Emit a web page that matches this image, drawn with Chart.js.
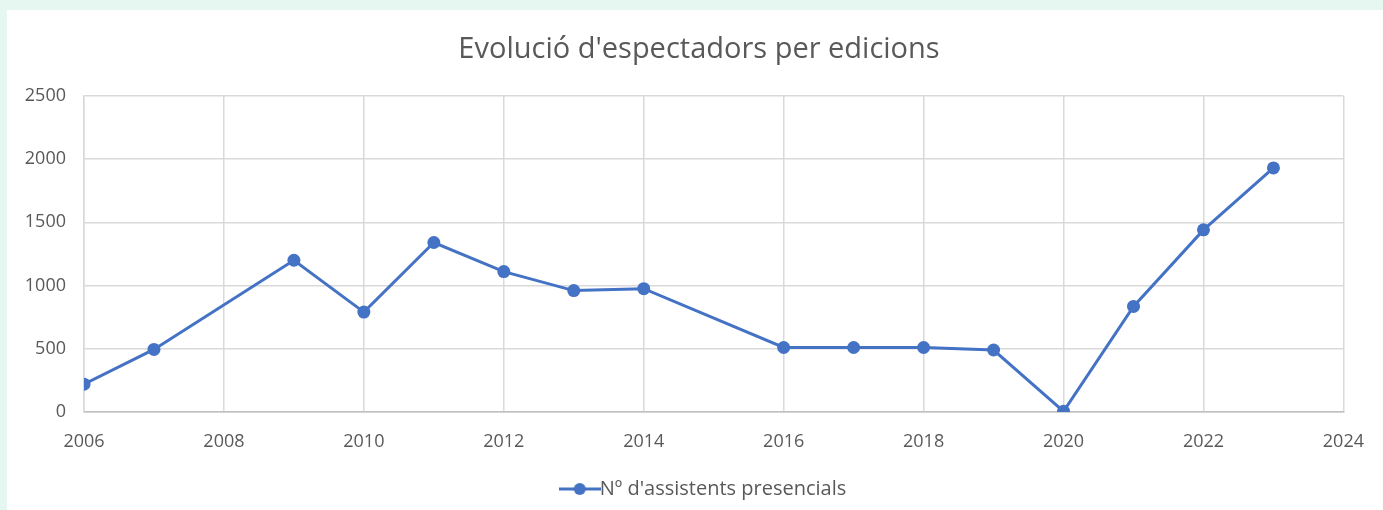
<!DOCTYPE html>
<html>
<head>
<meta charset="utf-8">
<script src="https://cdn.jsdelivr.net/npm/chart.js@4/dist/chart.umd.min.js"></script>
<style>
  html, body { margin: 0; padding: 0; }
  body { width: 1383px; height: 510px; background: #e6f7f2; overflow: hidden; position: relative; }
  #panel { position: absolute; left: 7px; top: 10px; width: 1376px; height: 500px; background: #fff; }
</style>
</head>
<body>
<div id="panel"><canvas id="myChart" width="1376" height="500"></canvas></div>
<script>
const years = [2006, 2007, 2009, 2010, 2011, 2012, 2013, 2014, 2016, 2017, 2018, 2019, 2020, 2021, 2022, 2023];
const attendees = [220, 495, 1200, 790, 1340, 1110, 960, 975, 510, 510, 510, 490, 5, 835, 1440, 1930];
const series_label = "Nº d'assistents presencials";
const chart_title = "Evolució d'espectadors per edicions";

const blue = '#4472c4';
const text_color = '#595959';
const font_name = "'Open Sans', 'Noto Sans', sans-serif";

// legend marker: short line with a dot on it
const marker = document.createElement('canvas');
marker.width = 42;
marker.height = 14;
const mctx = marker.getContext('2d');
mctx.strokeStyle = blue;
mctx.lineWidth = 3;
mctx.beginPath();
mctx.moveTo(0, 7);
mctx.lineTo(42, 7);
mctx.stroke();
mctx.fillStyle = blue;
mctx.beginPath();
mctx.arc(21, 7, 6, 0, Math.PI * 2);
mctx.fill();

// title and legend are centred a bit right of the canvas middle in the original
const shiftBoxes = {
    id: 'shiftBoxes',
    afterLayout(chart) {
        if (chart.titleBlock) chart.titleBlock.left = 41;
        if (chart.legend) chart.legend.left = 59;
    }
};

const ctx = document.getElementById('myChart').getContext('2d');

var chart = new Chart(ctx, {
    type: 'line',
    data: {
        datasets: [{
            label: series_label,
            data: years.map((y, i) => ({ x: y, y: attendees[i] })),
            borderColor: blue,
            backgroundColor: blue,
            borderWidth: 3,
            pointRadius: 6.5,
            pointBackgroundColor: blue,
            pointBorderWidth: 0,
            pointStyle: 'circle',
            tension: 0,
        }]
    },
    options: {
        responsive: false,
        animation: false,
        layout: { padding: { left: 0, right: 33, top: 0, bottom: 1 } },
        plugins: {
            title: {
                display: true,
                text: chart_title,
                color: text_color,
                font: { family: font_name, size: 29, weight: 'normal' },
                padding: { top: 22, bottom: 29 },
            },
            legend: {
                position: 'bottom',
                labels: {
                    color: text_color,
                    font: { family: font_name, size: 20 },
                    usePointStyle: true,
                    pointStyle: marker,
                    padding: 8,
                },
            },
            tooltip: { enabled: false },
        },
        scales: {
            x: {
                type: 'linear',
                min: 2006,
                max: 2024,
                ticks: {
                    stepSize: 2,
                    color: text_color,
                    font: { family: font_name, size: 18 },
                    padding: 19,
                    callback: (v) => String(v),
                },
                grid: { color: '#d9d9d9', lineWidth: 1.5, drawTicks: false },
                border: { color: '#bfbfbf', width: 1.5 },
                afterFit: (scale) => { scale.height = 59; },
            },
            y: {
                min: 0,
                max: 2500,
                ticks: {
                    stepSize: 500,
                    color: text_color,
                    font: { family: font_name, size: 18 },
                    padding: 18,
                    callback: (v) => String(v),
                },
                grid: { color: '#d9d9d9', lineWidth: 1.5, drawTicks: false },
                border: { color: '#d9d9d9', width: 1.5 },
                afterFit: (scale) => { scale.width = 77; },
            },
        },
    },
    plugins: [shiftBoxes],
});
</script>
</body>
</html>
